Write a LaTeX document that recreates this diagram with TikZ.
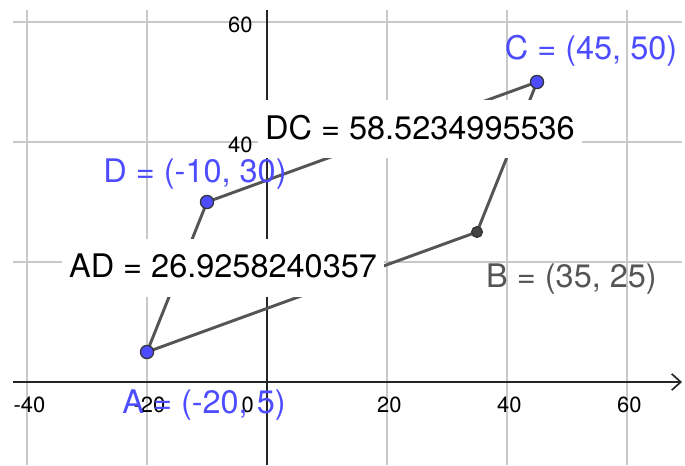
\documentclass[tikz,border=0pt]{standalone}
\usepackage{fontspec}
\setmainfont{TeX Gyre Heros}
\usetikzlibrary{arrows.meta}
\definecolor{ggbBlue}{RGB}{77,77,255}
\definecolor{ggbGray}{RGB}{85,85,85}
\definecolor{ggbGrid}{RGB}{200,200,200}
\definecolor{ggbAxis}{RGB}{37,37,37}

\begin{document}
\begin{tikzpicture}[
  x=0.1cm, y=0.1cm,
  grid/.style={draw=ggbGrid, line width=0.6pt},
  axis/.style={draw=ggbAxis, line width=0.8pt},
  seg/.style={draw=ggbGray, line width=1.4pt, line join=round},
  pt/.style={circle, draw=black!80, fill=ggbBlue, line width=0.6pt, minimum size=0.22cm, inner sep=0pt},
  ptdep/.style={pt, fill=ggbGray!80!black, minimum size=0.18cm},
  tick/.style={font=\fontsize{10.4}{12}\selectfont, inner sep=0pt},
  ptlabel/.style={font=\fontsize{15.4}{18}\selectfont, text=ggbBlue, anchor=base, inner sep=0pt},
  valbox/.style={fill=white, font=\fontsize{15.4}{18}\selectfont, minimum width=5.37cm,
    minimum height=0.967cm, text depth=0.2em, inner sep=0pt}
]
  \useasboundingbox (-44.5,-13.833) rectangle (69.667,63.667);
  \foreach \x in {-40,-20,20,40,60}
    \draw[grid] (\x,-13.833) -- (\x,62);
  \foreach \y in {20,40,60}
    \draw[grid] (-42.33,\y) -- (69.17,\y);
  \draw[axis, -{Straight Barb[length=0.15cm, width=0.27cm]}] (-42.33,0) -- (69.17,0);
  \draw[axis] (0,-13.833) -- (0,62);
  \foreach \x in {-40,-20,20,40,60}
    \node[tick] (xl\x) at (\x+0.4,-3.75) {\x};
  \foreach \y in {40,60}
    \node[tick, anchor=east] (yl\y) at (-2.33,\y-0.45) {\y};
  \node[tick] (o) at (-3.2,-3.8) {0};

  \coordinate (A) at (-20,5);
  \coordinate (B) at (35,25);
  \coordinate (C) at (45,50);
  \coordinate (D) at (-10,30);
  \draw[seg] (A) -- (B) -- (C) -- (D) -- cycle;
  \node[pt] (pA) at (A) {};
  \node[ptdep] (pB) at (B) {};
  \node[pt] (pC) at (C) {};
  \node[pt] (pD) at (D) {};

  \node[valbox] (AD) at (-7.33,19.0) {AD = 26.9258240357};
  \node[valbox, minimum width=5.4cm] (DC) at (25.5,42.17) {DC = 58.5234995536};

  \node[ptlabel] (labC) at (54.0,53.67) {C = (45, 50)};
  \node[ptlabel] (labD) at (-12.0,33.17) {D = (-10, 30)};
  \node[ptlabel, text=ggbGray] (labB) at (50.75,15.83) {B = (35, 25)};
  \node[ptlabel] (labA) at (-10.5,-5.17) {A = (-20, 5)};
\end{tikzpicture}
\end{document}
